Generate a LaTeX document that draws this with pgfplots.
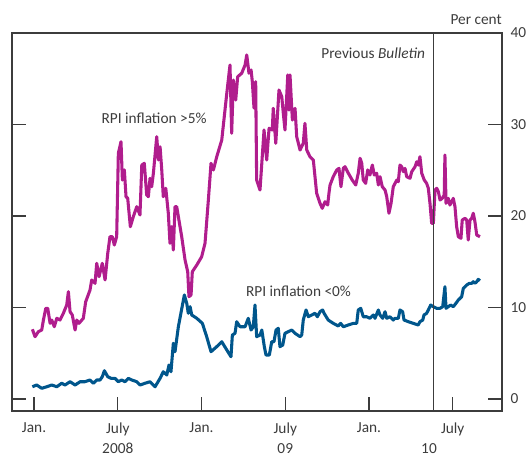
\documentclass[border=0pt]{standalone}
\usepackage{fontspec}
\setmainfont{Carlito}
\usepackage{pgfplots}
\pgfplotsset{compat=1.18}

\definecolor{rpihigh}{RGB}{176,29,141}
\definecolor{rpilow}{RGB}{0,86,140}
\definecolor{axisgrey}{RGB}{60,60,60}

% x: months since January 2008, y: per cent
\pgfplotstableread{
x y
-0.12 7.62
0.07 6.81
0.31 7.36
0.55 7.54
0.67 8.63
0.84 9.91
0.98 9.91
1.15 8.27
1.27 8.63
1.45 7.90
1.63 8.82
1.86 8.63
2.10 9.37
2.34 10.27
2.46 11.73
2.58 9.54
2.74 9.18
2.94 7.54
3.06 8.63
3.22 8.27
3.53 8.82
3.70 10.63
4.01 11.91
4.13 13.01
4.37 12.64
4.49 14.83
4.66 13.37
4.89 14.83
5.09 13.01
5.28 15.92
5.44 17.74
5.61 17.74
5.75 16.83
5.92 17.74
6.04 26.85
6.23 28.12
6.33 23.93
6.47 25.03
6.59 22.11
6.71 21.93
6.90 18.83
7.11 19.92
7.36 21.02
7.59 20.11
7.72 25.57
7.90 25.76
8.07 22.30
8.19 22.11
8.31 24.12
8.43 23.20
8.55 24.67
8.79 28.67
8.91 26.12
9.03 27.57
9.15 25.03
9.26 22.11
9.44 23.03
9.62 20.30
9.74 17.02
9.87 18.83
9.98 16.28
10.10 21.02
10.22 21.02
10.34 19.92
10.58 17.74
10.82 15.19
11.01 13.91
11.10 11.18
11.25 11.37
11.34 13.91
11.66 14.64
12.01 15.55
12.25 17.02
12.49 21.75
12.68 25.76
12.85 25.03
13.09 26.48
13.45 28.31
13.81 33.41
14.04 36.50
14.16 29.04
14.28 34.86
14.45 32.68
14.59 35.22
14.88 35.60
15.12 36.50
15.24 37.60
15.40 35.60
15.55 35.96
15.64 34.68
15.76 31.80
15.88 34.68
15.95 23.93
16.19 22.84
16.48 29.40
16.67 26.12
16.84 29.58
17.07 29.40
17.14 31.77
17.32 27.95
17.55 33.77
17.75 33.04
17.86 31.22
17.98 29.40
18.18 35.41
18.27 31.58
18.34 35.41
18.51 30.49
18.70 31.77
18.82 28.67
19.06 27.21
19.29 27.95
19.41 30.13
19.54 27.21
19.77 26.48
20.01 26.12
20.13 24.30
20.25 22.48
20.49 21.39
20.65 20.84
20.85 21.56
21.04 21.20
21.13 22.48
21.21 23.39
21.44 24.30
21.69 25.03
21.85 25.21
21.99 23.20
22.16 25.21
22.28 25.39
22.52 24.67
22.80 23.93
23.05 23.39
23.23 24.67
23.36 26.31
23.48 25.76
23.59 23.93
23.76 23.57
23.91 25.03
24.07 24.48
24.24 25.57
24.38 24.48
24.55 24.67
24.67 23.39
24.79 24.30
24.95 23.20
25.15 22.84
25.27 22.11
25.43 20.30
25.58 21.39
25.74 23.20
25.99 23.93
26.10 23.75
26.22 25.57
26.34 25.39
26.46 24.84
26.58 25.21
26.70 24.30
26.94 24.12
27.06 24.84
27.30 25.39
27.42 25.93
27.53 25.57
27.65 26.48
27.78 24.67
27.96 23.93
28.13 23.57
28.25 23.03
28.37 21.39
28.49 19.20
28.61 19.20
28.73 22.84
28.85 23.03
28.97 22.66
29.09 21.75
29.25 21.93
29.39 22.30
29.44 26.67
29.52 21.39
29.68 21.93
29.80 21.20
30.04 21.93
30.16 21.02
30.28 18.83
30.40 17.74
30.59 17.56
30.68 19.56
30.88 19.75
31.00 19.56
31.11 17.38
31.24 19.56
31.36 19.75
31.47 20.30
31.59 19.38
31.72 17.92
31.95 17.74
}\highdata

\pgfplotstableread{
x y
-0.12 1.34
0.19 1.53
0.55 1.17
0.91 1.34
1.27 1.53
1.63 1.34
1.98 1.72
2.22 1.53
2.58 1.89
2.94 1.53
3.30 1.89
3.65 1.89
4.01 2.08
4.25 1.72
4.49 2.08
4.73 2.08
4.89 2.44
5.04 3.09
5.28 2.44
5.52 2.26
5.80 2.26
6.04 1.89
6.28 2.08
6.52 1.89
6.76 2.26
7.00 2.08
7.36 1.89
7.59 1.53
7.95 1.72
8.31 1.89
8.67 1.34
9.03 2.26
9.26 2.98
9.51 2.62
9.67 3.72
9.81 2.98
9.98 6.09
10.10 5.17
10.34 7.90
10.77 11.37
10.94 10.46
11.05 9.37
11.18 10.09
11.30 9.18
11.66 8.82
12.06 8.27
12.37 6.81
12.68 5.17
13.09 5.72
13.45 6.26
13.81 5.36
14.11 4.62
14.21 6.99
14.40 7.18
14.52 8.45
14.76 7.90
15.12 7.90
15.35 8.82
15.55 7.54
15.71 7.90
15.83 10.27
15.95 6.81
16.19 6.99
16.32 7.54
16.50 5.72
16.62 4.81
16.86 4.81
17.03 6.26
17.19 6.26
17.34 7.54
17.50 7.73
17.62 5.72
17.82 5.90
17.98 7.18
18.22 7.36
18.46 7.54
18.70 7.18
19.06 6.81
19.18 6.99
19.29 8.63
19.49 9.73
19.65 8.99
19.90 9.18
20.13 9.37
20.30 8.99
20.49 9.54
20.68 9.73
20.78 9.37
21.08 8.63
21.44 8.27
21.80 7.98
21.97 8.27
22.16 7.90
22.52 8.09
22.88 8.27
23.12 8.27
23.23 9.73
23.41 9.91
23.59 8.99
23.84 8.99
24.07 8.82
24.31 9.18
24.43 8.82
24.67 9.73
24.79 9.18
24.98 8.82
25.15 9.54
25.27 8.82
25.50 8.99
25.74 8.63
25.86 8.82
26.10 8.82
26.22 9.73
26.41 9.54
26.51 8.63
26.82 8.45
27.17 8.27
27.53 8.09
27.65 8.45
27.85 8.63
27.94 9.18
28.13 9.37
28.25 9.73
28.42 10.27
28.61 10.09
28.85 9.91
29.09 9.91
29.28 10.09
29.44 12.27
29.52 9.91
29.68 10.09
29.85 10.27
30.04 10.09
30.23 10.46
30.40 10.82
30.64 11.18
30.76 12.10
30.88 12.27
31.00 12.46
31.19 12.64
31.36 12.64
31.47 12.82
31.59 12.64
31.72 12.82
31.83 13.08
31.95 12.93
}\lowdata

\begin{document}
\begin{tikzpicture}
\begin{axis}[
    scale only axis,
    width=367.5pt, height=283.5pt,
    xmin=-1.58, xmax=33.53,
    ymin=-1.31, ymax=40,
    axis line style={axisgrey, line width=0.9pt},
    tick style={axisgrey, line width=0.9pt},
    tick align=inside,
    major tick length=10.5pt,
    xtick={0,6,12,18,24,30},
    xticklabels={Jan.,{July\\[0.5pt]2008},Jan.,{July\\[0.5pt]09},Jan.,July},
    xtick pos=bottom,
    extra x ticks={28.3},
    extra x tick labels={{\phantom{July}\\[0.5pt]10}},
    extra x tick style={major tick length=0pt},
    ytick={0,10,20,30,40},
    ytick pos=both,
    yticklabel pos=right,
    tick label style={font=\fontsize{11.5}{15}\selectfont, text=axisgrey},
    xticklabel style={align=center, yshift=-5pt},
    yticklabel style={xshift=3pt},
    /pgf/number format/assume math mode=true,
    clip=false,
]
\addplot[rpihigh, line width=2.3pt, line join=round] table {\highdata};
\addplot[rpilow, line width=2.3pt, line join=round] table {\lowdata};

\draw[axisgrey, line width=0.9pt] (axis cs:28.61,-1.31) -- (axis cs:28.61,40);

\node[anchor=east, font=\fontsize{11.5}{13}\selectfont, text=axisgrey]
  at (axis cs:28.35,37.8) {Previous \textit{Bulletin}};
\node[font=\fontsize{11.5}{13}\selectfont, text=axisgrey]
  at (axis cs:8.6,30.7) {RPI inflation >5\%};
\node[font=\fontsize{11.5}{13}\selectfont, text=axisgrey]
  at (axis cs:18.95,11.8) {RPI inflation <0\%};
\node[anchor=south east, font=\fontsize{11.5}{13}\selectfont, text=axisgrey, inner sep=0pt]
  at ([yshift=6pt]rel axis cs:1,1) {Per cent};
\end{axis}
\path ([shift={(-9pt,-32.25pt)}]current axis.south west) rectangle ([shift={(22.5pt,24.75pt)}]current axis.north east);
\end{tikzpicture}
\end{document}
